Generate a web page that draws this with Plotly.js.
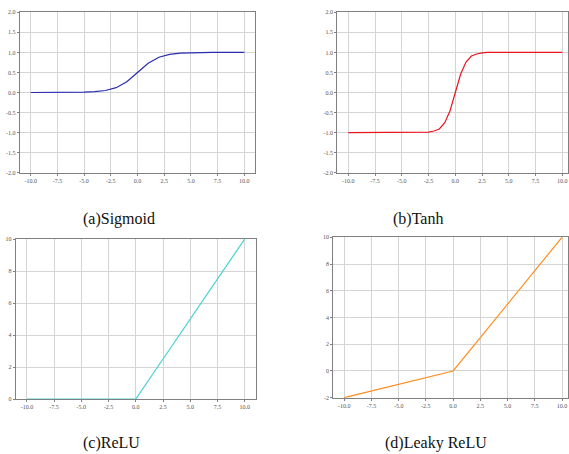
<!DOCTYPE html>
<html>
<head>
<meta charset="utf-8">
<script src="https://cdn.plot.ly/plotly-3.0.1.min.js"></script>
<style>html,body{margin:0;padding:0;background:#fff;}#chart{width:569px;height:454px;}</style>
</head>
<body>
<div id="chart"></div>
<script>
// ---- data ----
const sigX = [-10,-9,-8,-7,-6,-5,-4,-3,-2,-1,0,1,2,3,4,5,6,7,8,9,10];
const sigY = [0.00,0.00,0.00,0.00,0.00,0.01,0.02,0.05,0.12,0.27,0.50,0.73,0.88,0.95,0.98,0.99,1.00,1.00,1.00,1.00,1.00];

const tanhX = [-10,-8,-6,-4,-3,-2.5,-2,-1.5,-1,-0.5,0,0.5,1,1.5,2,2.5,3,4,6,8,10];
const tanhY = [-1.00,-1.00,-1.00,-1.00,-1.00,-0.99,-0.96,-0.91,-0.76,-0.46,0.00,0.46,0.76,0.91,0.96,0.99,1.00,1.00,1.00,1.00,1.00];

const reluX = [-10,-7.5,-5,-2.5,0,2.5,5,7.5,10];
const reluY = [0,0,0,0,0,2.5,5,7.5,10];

const leakyX = [-10,-7.5,-5,-2.5,0,2.5,5,7.5,10];
const leakyY = [-2,-1.5,-1,-0.5,0,2.5,5,7.5,10];

const xTickVals = [-10,-7.5,-5,-2.5,0,2.5,5,7.5,10];
const xTickText = ["-10.0","-7.5","-5.0","-2.5","0.0","2.5","5.0","7.5","10.0"];
const ySigTickVals = [-2,-1.5,-1,-0.5,0,0.5,1,1.5,2];
const ySigTickText = ["-2.0","-1.5","-1.0","-0.5","0.0","0.5","1.0","1.5","2.0"];
const yReluTickVals = [0,2,4,6,8,10];
const yReluTickText = ["0","2","4","6","8","10"];
const yLeakyTickVals = [-2,0,2,4,6,8,10];
const yLeakyTickText = ["-2","0","2","4","6","8","10"];

const captions = ["(a)Sigmoid","(b)Tanh","(c)ReLU","(d)Leaky ReLU"];

// ---- styling ----
const W = 569, H = 454;
function px(x){return x/W;}
function py(y){return 1 - y/H;}
const tickFont = {family:"Liberation Serif", size:6, color:"#555"};
function xa(dom, range, anchor){
  return {domain:dom, range:range, anchor:anchor, tickvals:xTickVals, ticktext:xTickText,
    showgrid:true, gridcolor:"#d4d4d4", gridwidth:1, zeroline:false,
    showline:true, mirror:true, linecolor:"#808080", linewidth:1.2,
    ticks:"outside", ticklen:2, tickcolor:"#808080", tickfont:tickFont, fixedrange:true};
}
function ya(dom, range, anchor, tv, tt){
  return {domain:dom, range:range, anchor:anchor, tickvals:tv, ticktext:tt,
    showgrid:true, gridcolor:"#d4d4d4", gridwidth:1, zeroline:false,
    showline:true, mirror:true, linecolor:"#808080", linewidth:1.2,
    ticks:"outside", ticklen:2, tickcolor:"#808080", tickfont:tickFont, fixedrange:true};
}

const traces = [
  {x:sigX, y:sigY, xaxis:"x", yaxis:"y", mode:"lines", line:{color:"#2b2bb0", width:1.2}},
  {x:tanhX, y:tanhY, xaxis:"x2", yaxis:"y2", mode:"lines", line:{color:"#e8141e", width:1.2}},
  {x:reluX, y:reluY, xaxis:"x3", yaxis:"y3", mode:"lines", line:{color:"#46d2cf", width:1.2}},
  {x:leakyX, y:leakyY, xaxis:"x4", yaxis:"y4", mode:"lines", line:{color:"#ff8c1e", width:1.2}}
];

const capFont = {family:"Liberation Serif", size:16, color:"#111"};
const layout = {
  width:W, height:H, margin:{l:0,r:0,t:0,b:0}, showlegend:false,
  paper_bgcolor:"#fff", plot_bgcolor:"#fff",
  xaxis: xa([px(20),px(255)], [-11,11], "y"),
  yaxis: ya([py(172.7),py(12.3)], [-2,2], "x", ySigTickVals, ySigTickText),
  xaxis2: xa([px(337.3),px(568)], [-11.03,10.53], "y2"),
  yaxis2: ya([py(172.7),py(12.3)], [-2,2], "x2", ySigTickVals, ySigTickText),
  xaxis3: xa([px(16),px(255.6)], [-11,11], "y3"),
  yaxis3: ya([py(399),py(239)], [0,10], "x3", yReluTickVals, yReluTickText),
  xaxis4: xa([px(333.3),px(568)], [-11,10.55], "y4"),
  yaxis4: ya([py(397.7),py(237.3)], [-2,10], "x4", yLeakyTickVals, yLeakyTickText),
  annotations: [
    {text:captions[0], x:px(119), y:py(219), xref:"paper", yref:"paper", showarrow:false, font:capFont, xanchor:"center", yanchor:"middle"},
    {text:captions[1], x:px(418), y:py(219), xref:"paper", yref:"paper", showarrow:false, font:capFont, xanchor:"center", yanchor:"middle"},
    {text:captions[2], x:px(111), y:py(443), xref:"paper", yref:"paper", showarrow:false, font:capFont, xanchor:"center", yanchor:"middle"},
    {text:captions[3], x:px(436), y:py(443), xref:"paper", yref:"paper", showarrow:false, font:capFont, xanchor:"center", yanchor:"middle"}
  ]
};
Plotly.newPlot("chart", traces, layout, {staticPlot:true, displayModeBar:false});
</script>
</body>
</html>
